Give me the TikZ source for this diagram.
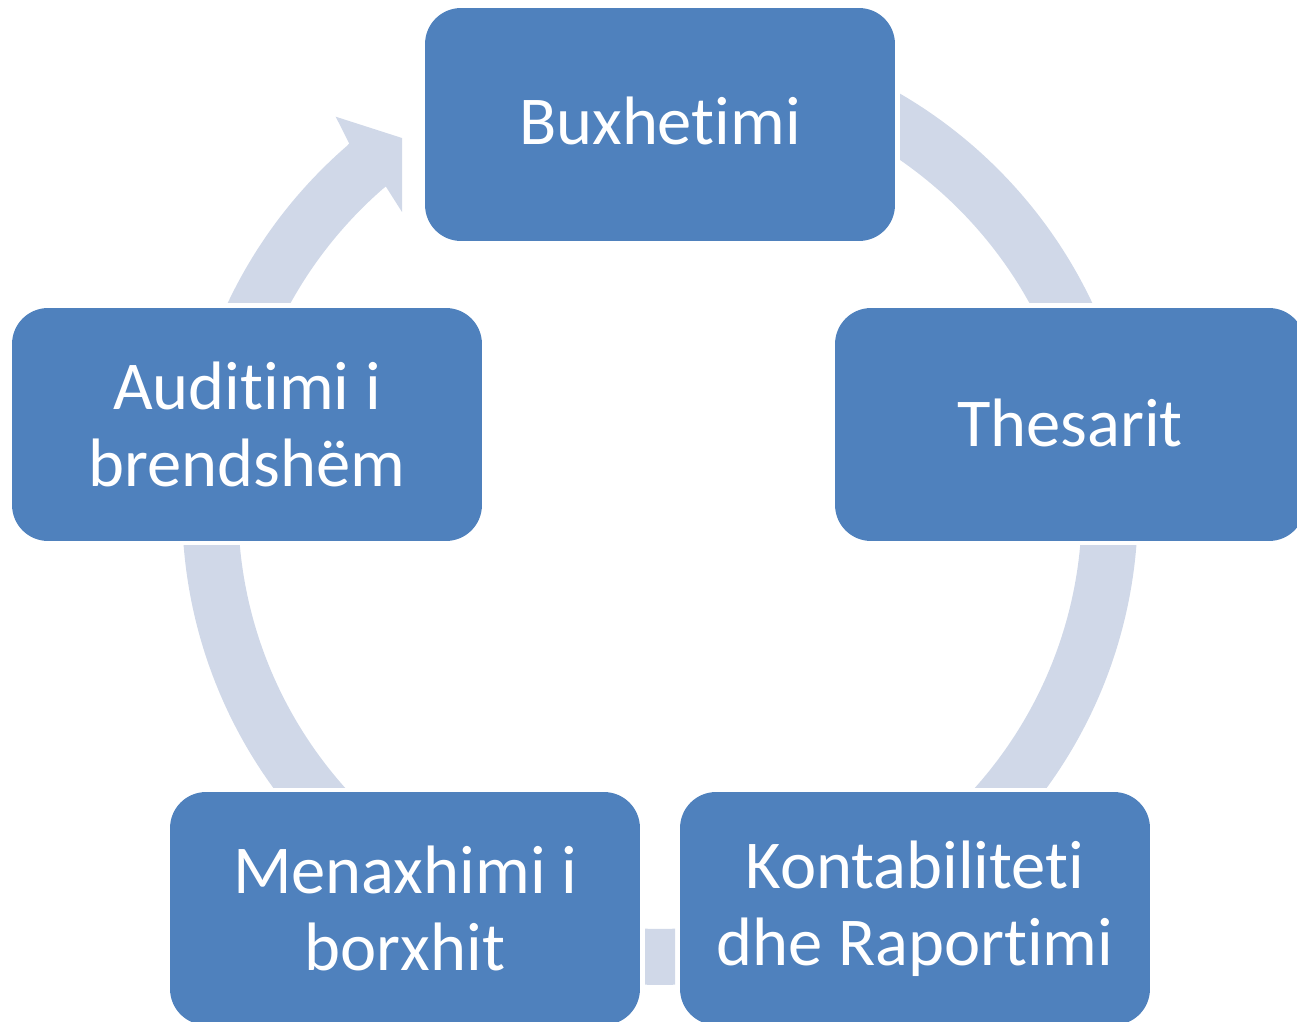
\documentclass[tikz,border=0pt]{standalone}
\usepackage{fontspec}
\setmainfont{Carlito}[Ligatures=NoCommon]
\definecolor{boxblue}{RGB}{79,129,189}
\definecolor{arcgray}{RGB}{208,216,232}
\begin{document}
\begin{tikzpicture}[x=0.02cm,y=-0.02cm,
  stage/.style={rectangle, rounded corners=0.72cm, fill=boxblue, text=white,
    minimum width=9.4cm, minimum height=4.66cm, align=center, inner sep=0pt,
    font=\fontsize{39pt}{43.7pt}\selectfont},
  ring/.style={fill=arcgray, even odd rule}]
\useasboundingbox (0,0) rectangle (1297,1021);
\clip (0,0) rectangle (1297,1021);
\coordinate (c) at (660,507);
% top-right arc
\begin{scope}
  \clip (900,0) rectangle (1297,302);
  \fill[ring] (c) circle[radius=9.56cm] (c) circle[radius=8.44cm];
\end{scope}
% right-bottom arc
\begin{scope}
  \clip (660,545) rectangle (1297,787);
  \fill[ring] (c) circle[radius=9.56cm] (c) circle[radius=8.44cm];
\end{scope}
% bottom piece
\begin{scope}
  \clip (645,900) rectangle (675,1021);
  \fill[ring] (c) circle[radius=9.56cm] (c) circle[radius=8.44cm];
\end{scope}
% left-bottom arc
\begin{scope}
  \clip (0,545) rectangle (660,787);
  \fill[ring] (c) circle[radius=9.56cm] (c) circle[radius=8.44cm];
\end{scope}
% left-top arrow body
\begin{scope}
  \clip (0,0) rectangle (660,302);
  \clip (c) -- (-340,507) -- (-340,-300) -- (-120,-405) -- cycle;
  \fill[ring] (c) circle[radius=9.56cm] (c) circle[radius=8.44cm];
\end{scope}
% arrow head
\fill[arcgray] (347.8,145) -- (349.3,143.7) -- (335.7,116.7) -- (402,138)
  -- (402,212) -- (385.7,186.3) -- (384.2,187.6) -- cycle;
% stages
\node[stage] (bux) at (660,124.5) {\raisebox{4pt}{Buxhetimi}};
\node[stage] (the) at (1070,424.5) {\raisebox{2pt}{Thesarit}};
\node[stage] (kon) at (915,908.5) {Kontabiliteti\\dhe Raportimi};
\node[stage] (men) at (405,908.5) {Menaxhimi i\\borxhit};
\node[stage] (aud) at (247,424.5) {Auditimi i\\brendshëm};
\end{tikzpicture}
\end{document}
